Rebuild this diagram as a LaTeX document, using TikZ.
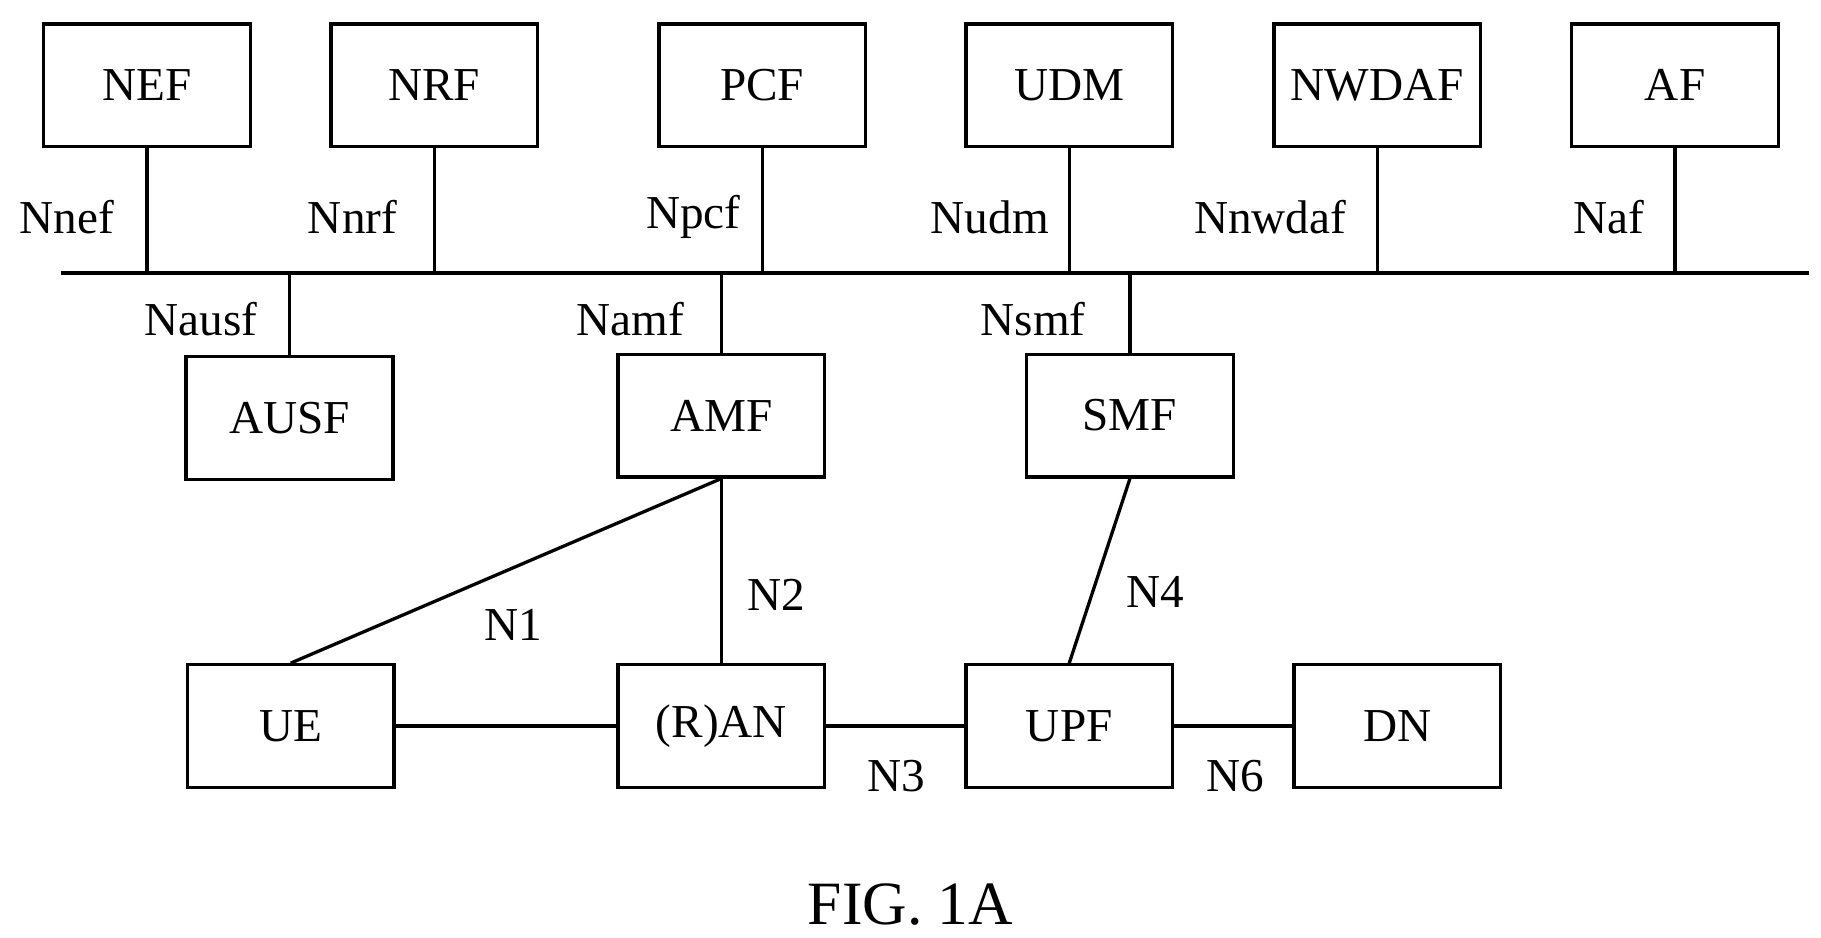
\documentclass[tikz,border=0pt]{standalone}
\usepackage{fontspec}
\setmainfont{Liberation Serif}
\usetikzlibrary{positioning}

\begin{document}
\begin{tikzpicture}[x=0.01cm, y=-0.01cm, line width=0.8pt,
    nf/.style={draw, minimum width=1.77cm, minimum height=1.05cm, inner sep=0pt, font=\fontsize{11.5}{13}\selectfont},
    lbl/.style={font=\fontsize{11.5}{13}\selectfont}]
        \useasboundingbox (0,0) rectangle (1560,803);

        \node[nf] (nef) at (126, 73) {NEF};
        \node[nf] (nrf) at (372, 73) {NRF};
        \node[nf] (pcf) at (653, 73) {PCF};
        \node[nf] (udm) at (916, 73) {UDM};
        \node[nf] (nwdaf) at (1180, 73) {NWDAF};
        \node[nf] (af) at (1435, 73) {AF};

        \node[nf] (ausf) at (248, 358) {AUSF};
        \node[nf] (amf) at (618, 356) {AMF};
        \node[nf] (smf) at (968, 356) {SMF};

        \node[nf] (ue) at (249, 622) {UE};
        \node[nf] (ran) at (618, 622) {(R)AN};
        \node[nf] (upf) at (916, 622) {UPF};
        \node[nf] (dn) at (1197, 622) {DN};

        \coordinate (busl) at (52, 234);
        \coordinate (busr) at (1550, 234);
        \draw[line width=1.1pt] (busl) -- (busr);

        \foreach \n in {nef, nrf, pcf, udm, nwdaf, af}
            \draw (\n.south) -- (\n.south |- busl);
        \foreach \n in {ausf, amf, smf}
            \draw (\n.north) -- (\n.north |- busl);

        \node[lbl] at (57, 186) {Nnef};
        \node[lbl] at (302, 186) {Nnrf};
        \node[lbl] at (594, 186) {Npcf};
        \node[lbl] at (848, 186) {Nudm};
        \node[lbl] at (1088, 186) {Nnwdaf};
        \node[lbl] at (1378, 186) {Naf};
        \node[lbl] at (172, 273) {Nausf};
        \node[lbl] at (540, 273) {Namf};
        \node[lbl] at (885, 273) {Nsmf};

        \draw (amf.south) -- (ue.north);
        \draw (amf.south) -- (ran.north);
        \draw (smf.south) -- (upf.north);
        \draw (ue) -- (ran);
        \draw (ran) -- (upf);
        \draw (upf) -- (dn);

        \node[lbl] at (440, 535) {N1};
        \node[lbl] at (665, 510) {N2};
        \node[lbl] at (990, 507) {N4};
        \node[lbl] at (768, 665) {N3};
        \node[lbl] at (1058, 665) {N6};

        \node[font=\fontsize{15}{17}\selectfont] (fig) at (780, 775) {FIG. 1A};
    \end{tikzpicture}
\end{document}
